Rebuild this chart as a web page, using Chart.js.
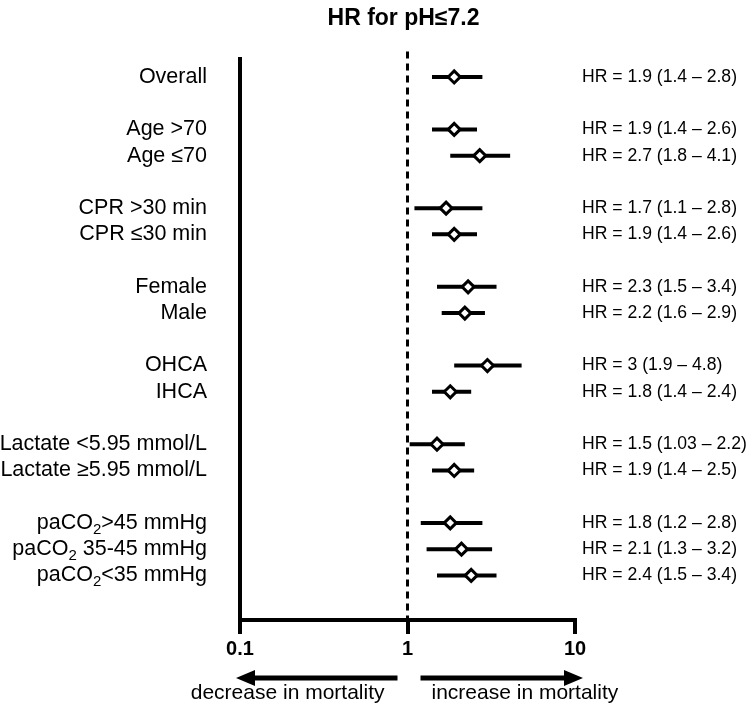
<!doctype html>
<html lang="en">

<head>
  <meta charset="utf-8">
  <title>HR for pH≤7.2</title>
  <style>
    * {
      margin: 0;
      padding: 0;
    }

    body {
      background: #fff;
    }

    .chartBox {
      width: 748px;
      height: 705px;
    }
  </style>
</head>

<body>
  <div class="chartBox">
    <canvas id="myChart"></canvas>
  </div>
  <script src="https://cdn.jsdelivr.net/npm/chart.js/dist/chart.umd.min.js"></script>
  <script>
    // data ("_2" marks a subscript 2)
    const categories = [
      'Overall',
      'Age >70', 'Age ≤70',
      'CPR >30 min', 'CPR ≤30 min',
      'Female', 'Male',
      'OHCA', 'IHCA',
      'Lactate <5.95 mmol/L', 'Lactate ≥5.95 mmol/L',
      'paCO_2>45 mmHg', 'paCO_2 35-45 mmHg', 'paCO_2<35 mmHg'
    ];
    const rowPositions = [0, 2, 3, 5, 6, 8, 9, 11, 12, 14, 15, 17, 18, 19];
    const hrValues = [1.9, 1.9, 2.7, 1.7, 1.9, 2.3, 2.2, 3, 1.8, 1.5, 1.9, 1.8, 2.1, 2.4];
    const ciLow = [1.4, 1.4, 1.8, 1.1, 1.4, 1.5, 1.6, 1.9, 1.4, 1.03, 1.4, 1.2, 1.3, 1.5];
    const ciHigh = [2.8, 2.6, 4.1, 2.8, 2.6, 3.4, 2.9, 4.8, 2.4, 2.2, 2.5, 2.8, 3.2, 3.4];
    const xTicks = [0.1, 1, 10];

    const FONT = "'Liberation Sans', Arial, sans-serif";

    // CI segments, split by empty points
    const ciData = [];
    rowPositions.forEach((y, i) => {
      ciData.push({ x: ciLow[i], y: y });
      ciData.push({ x: ciHigh[i], y: y });
      ciData.push({ x: null, y: null });
    });
    const hrData = rowPositions.map((y, i) => ({ x: hrValues[i], y: y }));

    function drawLabel(ctx, text, x, y, size) {
      // right aligned, with "_2" drawn as subscript
      const parts = text.split('_2');
      const big = size + 'px ' + FONT;
      const small = Math.round(size * 0.68) + 'px ' + FONT;
      let total = 0;
      parts.forEach((p, i) => {
        ctx.font = big;
        total += ctx.measureText(p).width;
        if (i < parts.length - 1) {
          ctx.font = small;
          total += ctx.measureText('2').width;
        }
      });
      let cx = x - total;
      ctx.textAlign = 'left';
      parts.forEach((p, i) => {
        ctx.font = big;
        ctx.fillText(p, cx, y);
        cx += ctx.measureText(p).width;
        if (i < parts.length - 1) {
          ctx.font = small;
          ctx.fillText('2', cx, y + size * 0.32);
          cx += ctx.measureText('2').width;
        }
      });
    }

    const forestExtras = {
      id: 'forestExtras',
      beforeDatasetsDraw(chart) {
        const { ctx, chartArea: { top, bottom }, scales: { x } } = chart;
        const x1 = x.getPixelForValue(1);
        ctx.save();
        ctx.strokeStyle = '#000';
        ctx.lineWidth = 3;
        ctx.setLineDash([7, 5]);
        ctx.beginPath();
        ctx.moveTo(x1, top - 7);
        ctx.lineTo(x1, bottom);
        ctx.stroke();
        ctx.restore();
      },
      afterDraw(chart) {
        const { ctx, chartArea: { left, bottom }, scales: { x, y } } = chart;
        ctx.save();
        ctx.fillStyle = '#000';
        ctx.textBaseline = 'middle';

        // row labels and HR text
        rowPositions.forEach((r, i) => {
          const py = y.getPixelForValue(r);
          drawLabel(ctx, categories[i], left - 33, py, 21.5);
          ctx.font = '17.6px ' + FONT;
          ctx.textAlign = 'left';
          ctx.fillText('HR = ' + hrValues[i] + ' (' + ciLow[i] + ' – ' + ciHigh[i] + ')', 582, py);
        });

        // arrows
        const x1 = x.getPixelForValue(1);
        const xMin = x.getPixelForValue(0.1);
        const xMax = x.getPixelForValue(10);
        const ay = bottom + 58;
        const head = 19;
        ctx.lineWidth = 5;
        ctx.strokeStyle = '#000';
        ctx.beginPath();
        ctx.moveTo(x1 - 10, ay);
        ctx.lineTo(xMin - 4 + head, ay);
        ctx.moveTo(x1 + 13, ay);
        ctx.lineTo(xMax + 8 - head, ay);
        ctx.stroke();
        ctx.beginPath();
        ctx.moveTo(xMin - 4, ay);
        ctx.lineTo(xMin - 4 + head, ay - 8);
        ctx.lineTo(xMin - 4 + head, ay + 8);
        ctx.closePath();
        ctx.moveTo(xMax + 8, ay);
        ctx.lineTo(xMax + 8 - head, ay - 8);
        ctx.lineTo(xMax + 8 - head, ay + 8);
        ctx.closePath();
        ctx.fill();

        ctx.font = '21px ' + FONT;
        ctx.textAlign = 'right';
        ctx.fillText('decrease in mortality', x1 - 23, ay + 15);
        ctx.textAlign = 'left';
        ctx.fillText('increase in mortality', x1 + 24, ay + 15);
        ctx.restore();
      }
    };

    const data = {
      datasets: [{
        type: 'line',
        label: '95% CI',
        data: ciData,
        borderColor: '#000',
        borderWidth: 4,
        pointRadius: 0,
        spanGaps: false,
        order: 2
      }, {
        type: 'scatter',
        label: 'HR',
        data: hrData,
        pointStyle: 'rectRot',
        pointRadius: 6,
        borderWidth: 3,
        borderColor: '#000',
        backgroundColor: '#fff',
        order: 1
      }]
    };

    const config = {
      type: 'scatter',
      data,
      options: {
        responsive: true,
        maintainAspectRatio: false,
        animation: false,
        events: [],
        layout: {
          padding: { left: 232, right: 173, top: 0, bottom: 41 }
        },
        plugins: {
          legend: { display: false },
          tooltip: { enabled: false },
          title: {
            display: true,
            text: 'HR for pH≤7.2',
            color: '#000',
            font: { family: FONT, size: 23, weight: 'bold' },
            padding: { top: 5, bottom: 26 }
          }
        },
        scales: {
          x: {
            type: 'logarithmic',
            min: 0.1,
            max: 10,
            afterBuildTicks: (scale) => {
              scale.ticks = xTicks.map(v => ({ value: v }));
            },
            border: { display: true, color: '#000', width: 4 },
            grid: {
              drawOnChartArea: false,
              drawTicks: true,
              tickLength: 14,
              lineWidth: 4,
              color: '#000'
            },
            ticks: {
              color: '#000',
              padding: 3,
              maxRotation: 0,
              font: { family: FONT, size: 20, weight: 'bold' },
              callback: (v) => String(v)
            }
          },
          y: {
            type: 'linear',
            reverse: true,
            min: -0.7,
            max: 20.7,
            border: { display: true, color: '#000', width: 4 },
            grid: { display: false },
            ticks: { display: false }
          }
        }
      },
      plugins: [forestExtras]
    };

    const ctx = document.getElementById('myChart');
    const myChart = new Chart(ctx, config);
  </script>

</body>

</html>
